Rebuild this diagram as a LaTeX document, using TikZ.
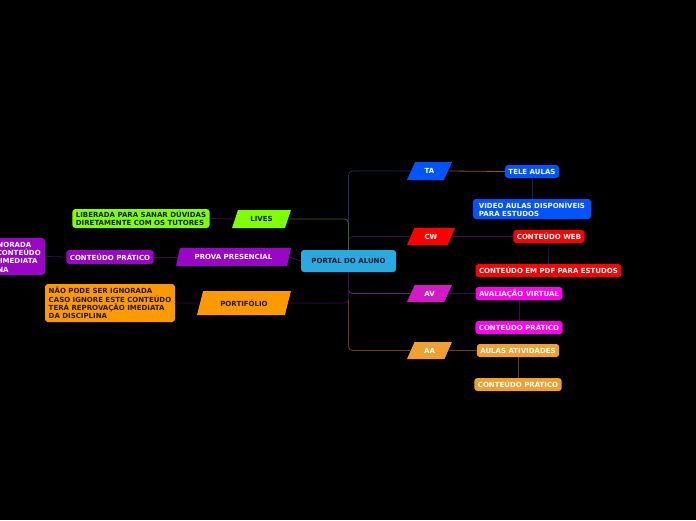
\documentclass[tikz,border=0pt]{standalone}
\usepackage{fontspec}
\setmainfont{DejaVu Sans}
\usetikzlibrary{shapes.geometric}
\definecolor{cportal}{HTML}{29ABE2}
\definecolor{cgreen}{HTML}{80FF00}
\definecolor{cpurple}{HTML}{9A05C8}
\definecolor{corange}{HTML}{FF9900}
\definecolor{cblue}{HTML}{0055FF}
\definecolor{cred}{HTML}{FF0000}
\definecolor{cav}{HTML}{D41AC4}
\definecolor{cmag}{HTML}{FF00F0}
\definecolor{caa}{HTML}{F0A030}
\definecolor{cdark}{HTML}{1A1A2A}
\definecolor{lblue}{HTML}{1C2A6E}
\definecolor{lgreen}{HTML}{3A6A10}
\definecolor{lpurple}{HTML}{3E0A58}
\definecolor{lmag}{HTML}{7A1A80}
\definecolor{lbrown}{HTML}{6A4410}
\definecolor{ltele}{HTML}{8A5A10}
\definecolor{ltelev}{HTML}{142050}
\tikzset{
  txt/.style={font=\bfseries\fontsize{7}{8.4}\selectfont},
  topic/.style={txt, rounded corners=3pt, inner xsep=3.5pt, inner ysep=2pt, minimum height=13pt},
  para/.style={txt, shape=trapezium, trapezium left angle=62, trapezium right angle=118,
    trapezium stretches=true, inner sep=0pt},
  link/.style={line width=0.8pt},
}
\begin{document}
\begin{tikzpicture}[x=1pt,y=-1pt]
  % background
  \fill[black] (0,0) rectangle (696,520);
  \useasboundingbox (0,0) rectangle (696,520);
  \clip (0,0) rectangle (696,520);
  % central topic
  \node[topic, fill=cportal, text=cdark, minimum width=95pt, minimum height=22pt] (portal) at (348.5,261) {PORTAL DO ALUNO};
  % left side
  \node[para, fill=cgreen, text=cdark, minimum width=59pt, minimum height=18pt] (lives) at (261.5,219) {LIVES};
  \node[topic, fill=cgreen, text=cdark, align=left] (liberada) at (141,218.5) {LIBERADA PARA SANAR DÚVIDAS\\DIRETAMENTE COM OS TUTORES};
  \node[para, fill=cpurple, text=white, minimum width=115pt, minimum height=18pt] (prova) at (233.5,257) {PROVA PRESENCIAL};
  \node[topic, fill=cpurple, text=white, minimum height=14pt] (pratprova) at (110,257) {CONTEÚDO PRÁTICO};
  \node[topic, fill=cpurple, text=white, align=center, minimum width=131pt, minimum height=37pt] (avisoprova) at (-20.5,256.5) {NÃO PODE SER IGNORADA\\CASO IGNORE ESTE CONTEÚDO\\TERÁ REPROVAÇÃO IMEDIATA\\DA DISCIPLINA};
  \node[para, fill=corange, text=cdark, minimum width=94pt, minimum height=24pt] (portif) at (244,303) {PORTIFÓLIO};
  \node[topic, fill=corange, text=cdark, align=left, minimum width=130pt, minimum height=38pt] (avisoport) at (110,303) {NÃO PODE SER IGNORADA\\CASO IGNORE ESTE CONTEÚDO\\TERÁ REPROVAÇÃO IMEDIATA\\DA DISCIPLINA};
  % right side
  \node[para, fill=cblue, text=white, minimum width=45pt, minimum height=18pt] (ta) at (429.5,171) {TA};
  \node[topic, fill=cblue, text=white] (tele) at (532,171.5) {TELE AULAS};
  \node[topic, fill=cblue, text=white, align=left, minimum width=118pt, minimum height=20pt] (video) at (532,209) {VIDEO AULAS DISPONÍVEIS\\PARA ESTUDOS};
  \node[para, fill=cred, text=white, minimum width=48pt, minimum height=17pt] (cw) at (431,236.5) {CW};
  \node[topic, fill=cred, text=white] (web) at (549,236.5) {CONTEÚDO WEB};
  \node[topic, fill=cred, text=white] (pdf) at (548.5,270.5) {CONTEÚDO EM PDF PARA ESTUDOS};
  \node[para, fill=cav, text=white, minimum width=45pt, minimum height=17pt] (av) at (429.5,293.5) {AV};
  \node[topic, fill=cmag, text=white] (aval) at (519,293.5) {AVALIAÇÃO VIRTUAL};
  \node[topic, fill=cmag, text=white] (pratav) at (519,327.5) {CONTEÚDO PRÁTICO};
  \node[para, fill=caa, text=white, minimum width=45pt, minimum height=17pt] (aa) at (429.5,350.5) {AA};
  \node[topic, fill=caa, text=white] (aulas) at (518,350.5) {AULAS ATIVIDADES};
  \node[topic, fill=caa, text=white] (prataa) at (518,384.5) {CONTEÚDO PRÁTICO};
  % connectors from the centre
  \begin{scope}[link, rounded corners=4pt]
    \draw[lblue] (portal.north) |- (ta.west);
    \draw[lpurple] (portal.north) |- (cw.west);
    \draw[lgreen] (portal.north) |- (lives.east);
    \draw[lmag] (portal.south) |- (av.west);
    \draw[lbrown] (portal.south) |- (aa.west);
    \draw[lpurple] (portal.south) |- (portif.east);
  \end{scope}
  \draw[link, lpurple] (portal.west) -- (prova.east);
  % second level
  \draw[link, lpurple] (lives.west) -- (liberada.east);
  \draw[link, lpurple] (prova.west) -- (pratprova.east);
  \draw[link, lpurple] (pratprova.west) -- (avisoprova.east);
  \draw[link, lpurple] (portif.west) -- (avisoport.east);
  \draw[link, ltele] (ta.east) -- (tele.west);
  \draw[link, ltelev] (tele.south) -- (video.north);
  \draw[link, lpurple] (cw.east) -- (web.west);
  \draw[link, lpurple] (web.south) -- (pdf.north);
  \draw[link, lpurple] (av.east) -- (aval.west);
  \draw[link, lpurple] (aval.south) -- (pratav.north);
  \draw[link, lbrown] (aa.east) -- (aulas.west);
  \draw[link, lbrown] (aulas.south) -- (prataa.north);
\end{tikzpicture}
\end{document}
